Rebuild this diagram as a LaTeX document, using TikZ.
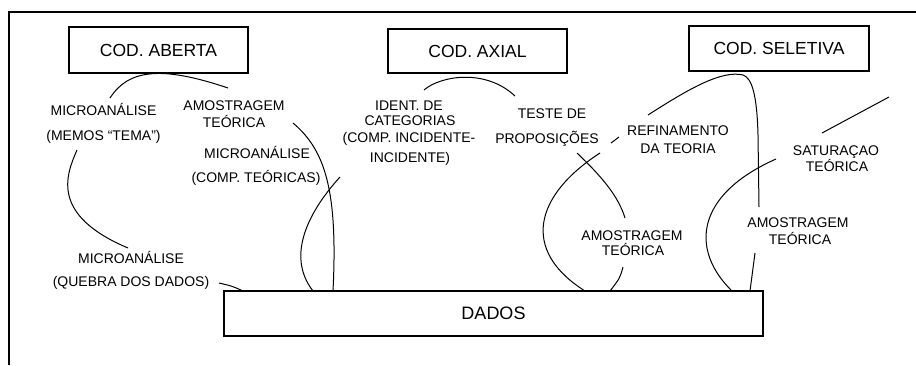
\documentclass[tikz,border=0pt]{standalone}
\usepackage{fontspec}
\setmainfont{Liberation Sans}
\begin{document}
\begin{tikzpicture}[x=1pt,y=-1pt,
  boxlbl/.style={draw,line width=1.5pt,inner sep=0pt,font=\fontsize{17.5}{20}\selectfont},
  lbl/.style={anchor=base,inner sep=0pt,font=\fontsize{14}{16}\selectfont},
  link/.style={line width=1pt},
  frame/.style={line width=1.8pt}]
\useasboundingbox (0,0) rectangle (916,365);
% frame
\coordinate (fr1) at (9,365);
\coordinate (fr2) at (9,12);
\coordinate (fr3) at (916,12);
\draw[frame] (fr1) -- (fr2) -- (fr3);
% boxes
\node[boxlbl,minimum width=179pt,minimum height=46pt] (aberta) at (158.5,50) {COD. ABERTA};
\node[boxlbl,minimum width=179pt,minimum height=44pt] (axial) at (477.5,51) {COD. AXIAL};
\node[boxlbl,minimum width=180pt,minimum height=45pt] (seletiva) at (779,48.5) {COD. SELETIVA};
\node[boxlbl,minimum width=539pt,minimum height=45pt,font=\fontsize{18}{20}\selectfont] (dados) at (493.5,313.5) {DADOS};
% labels
\node[lbl] (m1a) at (103.5,115) {MICROANÁLISE};
\node[lbl] (m1b) at (103.5,140) {(MEMOS “TEMA”)};
\node[lbl] (a1a) at (234,110) {AMOSTRAGEM};
\node[lbl] (a1b) at (234,127) {TEÓRICA};
\node[lbl] (m2a) at (257,158) {MICROANÁLISE};
\node[lbl] (m2b) at (256,182) {(COMP. TEÓRICAS)};
\node[lbl] (m3a) at (131,263) {MICROANÁLISE};
\node[lbl] (m3b) at (131,286) {(QUEBRA DOS DADOS)};
\node[lbl] (i1) at (409,110) {IDENT. DE};
\node[lbl] (i2) at (410,125) {CATEGORIAS};
\node[lbl] (i3) at (409,142) {(COMP. INCIDENTE-};
\node[lbl] (i4) at (410,162) {INCIDENTE)};
\node[lbl] (t1) at (552,118) {TESTE DE};
\node[lbl] (t2) at (547,143) {PROPOSIÇÕES};
\node[lbl] (r1) at (678,135) {REFINAMENTO};
\node[lbl] (r2) at (678,153) {DA TEORIA};
\node[lbl] (s1) at (836,155) {SATURAÇAO};
\node[lbl] (s2) at (837,171) {TEÓRICA};
\node[lbl] (a2a) at (632,240) {AMOSTRAGEM};
\node[lbl] (a2b) at (633,255) {TEÓRICA};
\node[lbl] (a3a) at (798,227) {AMOSTRAGEM};
\node[lbl] (a3b) at (800,244) {TEÓRICA};
% connector end points
\coordinate (p1s) at (110,98);   \coordinate (p1e) at (228,88);
\coordinate (p2s) at (77,150);   \coordinate (p2e) at (128,248);
\coordinate (p3s) at (219,283);  \coordinate (p3e) at (243,291);
\coordinate (p4s) at (293,123);  \coordinate (p4e) at (333,291);
\coordinate (p5s) at (340,177);  \coordinate (p5e) at (313,291);
\coordinate (p6s) at (424,90);   \coordinate (p6e) at (515,96);
\coordinate (p7s) at (611,143);  \coordinate (p7e) at (619,137);
\coordinate (p8s) at (600,153);  \coordinate (p8e) at (585,291);
\coordinate (p9s) at (577,153);  \coordinate (p9e) at (625,218);
\coordinate (p10s) at (623,267); \coordinate (p10e) at (610,291);
\coordinate (p11s) at (648,115); \coordinate (p11e) at (759,207);
\coordinate (p12s) at (822,133); \coordinate (p12e) at (889,97);
\coordinate (p13s) at (776,159); \coordinate (p13e) at (732,291);
\coordinate (p14s) at (755,253); \coordinate (p14e) at (750,291);
% connectors
\draw[link] (p1s) .. controls (128,70) and (160,65) .. (p1e);
\draw[link] (p2s) .. controls (66,175) and (50,215) .. (p2e);
\draw[link] (p3s) .. controls (232,286) .. (p3e);
\draw[link] (p4s) .. controls (325,150) and (338,190) .. (p4e);
\draw[link] (p5s) .. controls (310,210) and (285,255) .. (p5e);
\draw[link] (p6s) .. controls (440,76) and (485,68) .. (p6e);
\draw[link] (p7s) -- (p7e);
\draw[link] (p8s) .. controls (535,195) and (520,250) .. (p8e);
\draw[link] (p9s) .. controls (600,175) and (618,195) .. (p9e);
\draw[link] (p10s) .. controls (620,278) .. (p10e);
\draw[link] (p11s) .. controls (690,88) and (722,70) .. (743,75) .. controls (752,78) and (757,95) .. (758,135) -- (p11e);
\draw[link] (p12s) -- (p12e);
\draw[link] (p13s) .. controls (695,195) and (690,250) .. (p13e);
\draw[link] (p14s) -- (p14e);
\end{tikzpicture}
\end{document}
